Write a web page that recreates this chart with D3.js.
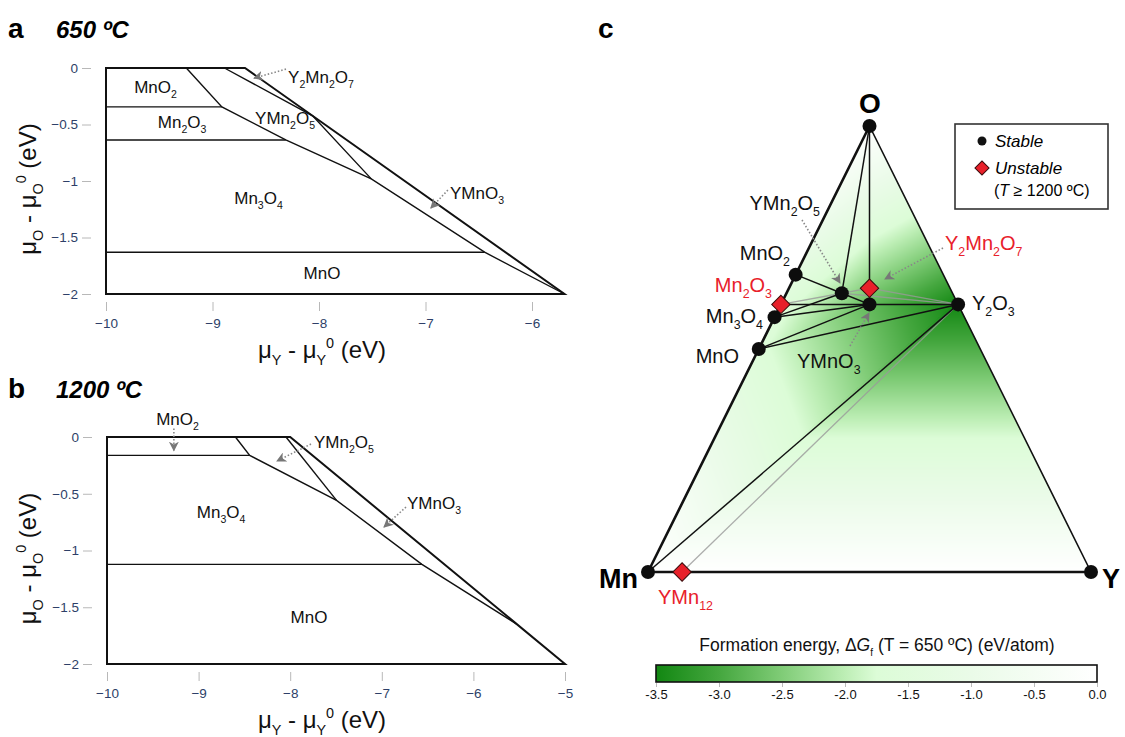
<!DOCTYPE html>
<html>
<head>
<meta charset="utf-8">
<script src="https://cdn.jsdelivr.net/npm/d3@7"></script>
<style>
  body { margin: 0; background: #fff; }
  text { font-family: "Liberation Sans", Arial, Helvetica, sans-serif; }
</style>
</head>
<body>
<div id="fig"></div>
<script>
(function () {

    var width = 1125;
    var height = 737;

    // ---- panel a : 650 C chemical potential map (muY, muO) ----
    var aOutline = [[-10, 0], [-8.695, 0], [-5.695, -2], [-10, -2]];
    var aLines = [
        [[-10, -0.344], [-8.912, -0.344]],
        [[-10, -0.637], [-8.312, -0.637]],
        [[-10, -1.63], [-6.445, -1.63]],
        [[-9.246, 0], [-8.912, -0.344], [-8.312, -0.637], [-7.509, -0.981], [-6.445, -1.63], [-5.695, -2]],
        [[-8.888, 0], [-8.06, -0.423], [-7.509, -0.981]]
    ];
    var aXTicks = [-10, -9, -8, -7, -6];
    var aLabels = [["MnO2", -9.535, -0.168], ["Mn2O3", -9.286, -0.478], ["YMn2O5", -8.319, -0.442],
                   ["Mn3O4", -8.568, -1.15], ["MnO", -7.972, -1.814]];
    var aCallouts = [["Y2Mn2O7", -8.29, -0.08, -8.31, -0.01, -8.61, -0.09],
                     ["YMnO3", -6.77, -1.106, -6.79, -1.08, -6.95, -1.24]];

    // ---- panel b : 1200 C ----
    var bOutline = [[-10, 0], [-8.0, 0], [-5, -2], [-10, -2]];
    var bLines = [
        [[-10, -0.162], [-8.442, -0.162]],
        [[-10, -1.122], [-6.562, -1.122]],
        [[-8.598, 0], [-8.442, -0.162], [-7.494, -0.558], [-6.562, -1.122], [-5.531, -1.646]],
        [[-8.046, 0], [-7.494, -0.558]]
    ];
    var bXTicks = [-10, -9, -8, -7, -6, -5];
    var bLabels = [["Mn3O4", -8.755, -0.66], ["MnO", -7.795, -1.586]];
    var bCallouts = [["YMn2O5", -7.74, -0.044, -7.773, -0.062, -8.144, -0.211],
                     ["YMnO3", -6.725, -0.58, -6.736, -0.617, -6.976, -0.793]];

    var muOTicks = [0, -0.5, -1, -1.5, -2];

    // ---- panel c : Mn-Y-O ternary ----
    var compounds = ["Mn", "Y", "O", "MnO2", "Mn2O3", "Mn3O4", "MnO", "Y2O3", "YMnO3", "YMn2O5", "Y2Mn2O7", "YMn12"];
    var nMn = [1, 0, 0, 1, 2, 3, 1, 0, 1, 2, 2, 12];
    var nY  = [0, 1, 0, 0, 0, 0, 0, 2, 1, 1, 2, 1];
    var nO  = [0, 0, 1, 2, 3, 4, 1, 3, 3, 5, 7, 0];
    var stable = [1, 1, 1, 1, 0, 1, 1, 1, 1, 1, 0, 0];
    var dGf = [0, 0, 0, -1.35, -1.55, -1.63, -1.66, -3.5, -2.75, -2.2, -2.33, -0.05];

    var tieBlack = [["O", "YMn2O5"], ["O", "YMnO3"], ["MnO2", "YMn2O5"], ["Mn3O4", "YMn2O5"],
                    ["Mn3O4", "YMnO3"], ["YMn2O5", "YMnO3"], ["YMnO3", "Y2O3"], ["MnO", "YMnO3"],
                    ["MnO", "Y2O3"], ["Mn", "Y2O3"], ["Mn2O3", "YMnO3"]];
    var tieGray = [["Mn2O3", "YMn2O5"], ["Y2Mn2O7", "YMn2O5"], ["Y2Mn2O7", "Y2O3"],
                   ["YMn2O5", "Y2O3"], ["YMn12", "Y2O3"]];
    var hullTriangles = [["O", "MnO2", "YMn2O5"], ["O", "YMn2O5", "YMnO3"], ["O", "YMnO3", "Y2O3"],
                         ["MnO2", "Mn3O4", "YMn2O5"], ["Mn3O4", "YMn2O5", "YMnO3"], ["Mn3O4", "YMnO3", "MnO"],
                         ["MnO", "YMnO3", "Y2O3"], ["MnO", "Y2O3", "Mn"], ["Mn", "Y2O3", "Y"]];

    var cbarTicks = [-3.5, -3.0, -2.5, -2.0, -1.5, -1.0, -0.5, 0.0];
    var cbarStops = [-3.5, -3.0, -2.5, -2.0, -1.75, -1.0, 0];
    var cbarColors = ["#128712", "#45a73f", "#80cc77", "#bdeeb5", "#dcfcd7", "#eafbe8", "#ffffff"];

    var red = "#e8202a";
    var tickBlue = "#2e3f68";

    var svg = d3.select("#fig").append("svg")
        .attr("width", width).attr("height", height)
        .style("background", "#fff");

    var defs = svg.append("defs");
    defs.append("marker").attr("id", "arr")
        .attr("viewBox", "0 0 10 10").attr("refX", 9).attr("refY", 5)
        .attr("markerWidth", 10).attr("markerHeight", 10)
        .attr("markerUnits", "userSpaceOnUse").attr("orient", "auto")
        .append("path").attr("d", "M0,0 L10,5 L0,10 L3,5 Z").attr("fill", "#777");
    defs.append("filter").attr("id", "soft")
        .append("feGaussianBlur").attr("stdDeviation", 0.6);

    // chemical formula with subscript digits
    function chem(text, s, size) {
        var parts = s.match(/[A-Za-z]+|\d+/g);
        var down = false;
        parts.forEach(function (p) {
            var t = text.append("tspan");
            if (/\d/.test(p)) {
                t.attr("font-size", size * 0.62).attr("dy", down ? 0 : size * 0.3);
                down = true;
            } else {
                t.attr("dy", down ? -size * 0.3 : 0);
                down = false;
            }
            t.text(p);
        });
        return text;
    }

    function muLabel(text, el, size) {
        text.append("tspan").text("\u03bc");
        text.append("tspan").attr("font-size", size * 0.6).attr("dy", size * 0.3).text(el);
        text.append("tspan").attr("dy", -size * 0.3).text(" - \u03bc");
        text.append("tspan").attr("font-size", size * 0.6).attr("dy", size * 0.3).text(el);
        text.append("tspan").attr("font-size", size * 0.6).attr("dy", -size * 0.72).text("0");
        text.append("tspan").attr("dy", size * 0.42).text(" (eV)");
    }

    var tickFmt = d3.format("");

    function phasePanel(xs, ys, outline, lines, xTicks, labels, callouts, letter, title, top) {
        var g = svg.append("g");
        var line = d3.line().x(function (d) { return xs(d[0]); }).y(function (d) { return ys(d[1]); });

        g.append("path").attr("d", line(outline) + "Z")
            .attr("fill", "none").attr("stroke", "#111").attr("stroke-width", 2);
        lines.forEach(function (l) {
            g.append("path").attr("d", line(l))
                .attr("fill", "none").attr("stroke", "#111").attr("stroke-width", 1.4);
        });

        var yAxis = g.append("g").attr("transform", "translate(" + (xs.range()[0] - 15) + ",0)")
            .call(d3.axisLeft(ys).tickValues(muOTicks).tickSize(9).tickPadding(4).tickFormat(tickFmt));
        var xAxis = g.append("g").attr("transform", "translate(0," + (ys(-2) + 8) + ")")
            .call(d3.axisBottom(xs).tickValues(xTicks).tickSize(9).tickPadding(7).tickFormat(tickFmt));
        [xAxis, yAxis].forEach(function (ax) {
            ax.select(".domain").remove();
            ax.selectAll(".tick line").attr("stroke", "#b8b8b8");
            ax.selectAll(".tick text").attr("fill", tickBlue).attr("font-size", 13.5)
                .style("font-family", "'Liberation Sans', Arial, sans-serif");
        });

        labels.forEach(function (d) {
            chem(g.append("text").attr("x", xs(d[1])).attr("y", ys(d[2]) + 6)
                .attr("text-anchor", "middle").attr("font-size", 17).attr("fill", "#111"), d[0], 17);
        });
        callouts.forEach(function (d) {
            g.append("line").attr("x1", xs(d[3])).attr("y1", ys(d[4])).attr("x2", xs(d[5])).attr("y2", ys(d[6]))
                .attr("stroke", "#888").attr("stroke-width", 1.6).attr("stroke-dasharray", "1.5,2")
                .attr("marker-end", "url(#arr)");
            chem(g.append("text").attr("x", xs(d[1])).attr("y", ys(d[2]) + 6)
                .attr("text-anchor", "start").attr("font-size", 17).attr("fill", "#111"), d[0], 17);
        });

        var yl = g.append("text").attr("text-anchor", "middle").attr("font-size", 24).attr("fill", "#111")
            .attr("transform", "translate(36," + (ys(-1) + 8) + ") rotate(-90)");
        muLabel(yl, "O", 24);
        var xl = g.append("text").attr("text-anchor", "middle").attr("font-size", 24).attr("fill", "#111")
            .attr("x", 322).attr("y", ys(-2) + 64);
        muLabel(xl, "Y", 24);

        g.append("text").attr("x", 8).attr("y", top).attr("font-size", 28).attr("font-weight", "bold").text(letter);
        g.append("text").attr("x", 56).attr("y", top).attr("font-size", 24).attr("font-weight", "bold")
            .attr("font-style", "italic").text(title);
        return g;
    }

    // panel a
    var axs = d3.scaleLinear().domain([-10, -6]).range([106, 532]);
    var ays = d3.scaleLinear().domain([0, -2]).range([68, 294]);
    phasePanel(axs, ays, aOutline, aLines, aXTicks, aLabels, aCallouts, "a", "650 \u00baC", 38);

    // panel b
    var bxs = d3.scaleLinear().domain([-10, -5]).range([107, 565]);
    var bys = d3.scaleLinear().domain([0, -2]).range([437, 664]);
    var gb = phasePanel(bxs, bys, bOutline, bLines, bXTicks, bLabels, bCallouts, "b", "1200 \u00baC", 398);
    // MnO2 callout above the plot
    gb.append("line").attr("x1", bxs(-9.27)).attr("y1", bys(0.075)).attr("x2", bxs(-9.27)).attr("y2", bys(-0.12))
        .attr("stroke", "#888").attr("stroke-width", 1.6).attr("stroke-dasharray", "1.5,2")
        .attr("marker-end", "url(#arr)");
    chem(gb.append("text").attr("x", bxs(-9.23)).attr("y", bys(0.1) - 1).attr("text-anchor", "middle")
        .attr("font-size", 17).attr("fill", "#111"), "MnO2", 17);

    // ---- panel c ----
    var tx = d3.scaleLinear().domain([0, 1]).range([648, 1091]);
    var ty = d3.scaleLinear().domain([0, 1]).range([572, 126]);
    var idx = {};
    compounds.forEach(function (c, i) { idx[c] = i; });
    function pt(name) {
        var i = idx[name];
        var n = nMn[i] + nY[i] + nO[i];
        var fY = nY[i] / n, fO = nO[i] / n;
        return [tx(fY + fO / 2), ty(fO)];
    }

    var color = d3.scaleLinear().domain(cbarStops).range(cbarColors).interpolate(d3.interpolateRgb).clamp(true);

    // energy surface shading (barycentric interpolation over the hull triangles)
    var cv = document.createElement("canvas");
    cv.width = width; cv.height = height;
    var ctx = cv.getContext("2d");
    var img = ctx.createImageData(width, height);
    hullTriangles.forEach(function (tri) {
        var p = tri.map(pt);
        var e = tri.map(function (n) { return dGf[idx[n]]; });
        var x0 = Math.floor(d3.min(p, function (d) { return d[0]; })) - 1;
        var x1 = Math.ceil(d3.max(p, function (d) { return d[0]; })) + 1;
        var y0 = Math.floor(d3.min(p, function (d) { return d[1]; })) - 1;
        var y1 = Math.ceil(d3.max(p, function (d) { return d[1]; })) + 1;
        var den = (p[1][1] - p[2][1]) * (p[0][0] - p[2][0]) + (p[2][0] - p[1][0]) * (p[0][1] - p[2][1]);
        for (var y = y0; y <= y1; y++) {
            for (var x = x0; x <= x1; x++) {
                var px = x + 0.5, py = y + 0.5;
                var w0 = ((p[1][1] - p[2][1]) * (px - p[2][0]) + (p[2][0] - p[1][0]) * (py - p[2][1])) / den;
                var w1 = ((p[2][1] - p[0][1]) * (px - p[2][0]) + (p[0][0] - p[2][0]) * (py - p[2][1])) / den;
                var w2 = 1 - w0 - w1;
                if (w0 < -0.01 || w1 < -0.01 || w2 < -0.01) continue;
                var c = d3.rgb(color(w0 * e[0] + w1 * e[1] + w2 * e[2]));
                var k = (y * width + x) * 4;
                img.data[k] = c.r; img.data[k + 1] = c.g; img.data[k + 2] = c.b; img.data[k + 3] = 255;
            }
        }
    });
    ctx.putImageData(img, 0, 0);
    var gc = svg.append("g");
    gc.append("clipPath").attr("id", "triclip").append("path")
        .attr("d", "M" + pt("Mn") + "L" + pt("O") + "L" + pt("Y") + "Z");
    gc.append("image").attr("href", cv.toDataURL()).attr("x", 0).attr("y", 0)
        .attr("width", width).attr("height", height).attr("clip-path", "url(#triclip)");

    // tie lines
    tieGray.forEach(function (d) {
        var a = pt(d[0]), b = pt(d[1]);
        gc.append("line").attr("x1", a[0]).attr("y1", a[1]).attr("x2", b[0]).attr("y2", b[1])
            .attr("stroke", "#9a9a9a").attr("stroke-width", 1.3).attr("opacity", 0.8);
    });
    tieBlack.forEach(function (d) {
        var a = pt(d[0]), b = pt(d[1]);
        gc.append("line").attr("x1", a[0]).attr("y1", a[1]).attr("x2", b[0]).attr("y2", b[1])
            .attr("stroke", "#111").attr("stroke-width", 1.5);
    });
    // triangle edges
    [["Mn", "O", 2.6], ["O", "Y", 1.6], ["Mn", "Y", 2.6]].forEach(function (d) {
        var a = pt(d[0]), b = pt(d[1]);
        gc.append("line").attr("x1", a[0]).attr("y1", a[1]).attr("x2", b[0]).attr("y2", b[1])
            .attr("stroke", "#111").attr("stroke-width", d[2]).attr("stroke-linecap", "round");
    });

    // callout arrows in c
    [[802, 220, 840, 283], [943, 248, 885, 279], [850, 346, 869, 313]].forEach(function (d) {
        gc.append("line").attr("x1", d[0]).attr("y1", d[1]).attr("x2", d[2]).attr("y2", d[3])
            .attr("stroke", "#888").attr("stroke-width", 1.6).attr("stroke-dasharray", "1.5,2")
            .attr("marker-end", "url(#arr)");
    });

    // compound markers
    compounds.forEach(function (c, i) {
        var p = pt(c);
        if (stable[i]) {
            gc.append("circle").attr("cx", p[0]).attr("cy", p[1]).attr("r", 7)
                .attr("fill", "#111").attr("filter", "url(#soft)");
        } else {
            gc.append("rect").attr("x", -6.5).attr("y", -6.5).attr("width", 13).attr("height", 13)
                .attr("transform", "translate(" + p[0] + "," + p[1] + ") rotate(45)")
                .attr("fill", red).attr("stroke", "#3a0a0a").attr("stroke-width", 1);
        }
    });

    // compound labels in c
    var cLabels = [["YMn2O5", 820, 210, "end", "#111"], ["MnO2", 790, 260, "end", "#111"],
                   ["Mn2O3", 772, 292, "end", red], ["Mn3O4", 763, 323, "end", "#111"],
                   ["MnO", 739, 363, "end", "#111"], ["YMnO3", 797, 368, "start", "#111"],
                   ["Y2Mn2O7", 945, 250, "start", red], ["Y2O3", 972, 310, "start", "#111"],
                   ["YMn12", 658, 604, "start", red]];
    cLabels.forEach(function (d) {
        chem(gc.append("text").attr("x", d[1]).attr("y", d[2]).attr("text-anchor", d[3])
            .attr("font-size", 20).attr("fill", d[4]), d[0], 20);
    });
    gc.append("text").attr("x", 870).attr("y", 113).attr("text-anchor", "middle")
        .attr("font-size", 28).attr("font-weight", "bold").text("O");
    gc.append("text").attr("x", 638).attr("y", 588).attr("text-anchor", "end")
        .attr("font-size", 27).attr("font-weight", "bold").text("Mn");
    gc.append("text").attr("x", 1102).attr("y", 588).attr("text-anchor", "start")
        .attr("font-size", 27).attr("font-weight", "bold").text("Y");
    gc.append("text").attr("x", 598).attr("y", 38).attr("font-size", 28).attr("font-weight", "bold").text("c");

    // legend
    var lg = gc.append("g");
    lg.append("rect").attr("x", 955).attr("y", 124).attr("width", 153).attr("height", 85)
        .attr("fill", "#fff").attr("stroke", "#333").attr("stroke-width", 1.6);
    lg.append("circle").attr("cx", 982).attr("cy", 141).attr("r", 4.5).attr("fill", "#111");
    lg.append("text").attr("x", 995).attr("y", 147).attr("font-size", 17).attr("font-style", "italic").text("Stable");
    lg.append("rect").attr("x", -5).attr("y", -5).attr("width", 10).attr("height", 10)
        .attr("transform", "translate(982,168) rotate(45)").attr("fill", red).attr("stroke", "#3a0a0a");
    lg.append("text").attr("x", 995).attr("y", 174).attr("font-size", 17).attr("font-style", "italic").text("Unstable");
    var lt = lg.append("text").attr("x", 994).attr("y", 196).attr("font-size", 16);
    lt.append("tspan").text("(");
    lt.append("tspan").attr("font-style", "italic").text("T");
    lt.append("tspan").text(" \u2265 1200 \u00baC)");

    // colour bar
    var cb = d3.scaleLinear().domain([-3.5, 0]).range([656, 1097]);
    var grad = defs.append("linearGradient").attr("id", "cbar")
        .attr("x1", 0).attr("x2", 1).attr("y1", 0).attr("y2", 0);
    cbarStops.forEach(function (s, i) {
        grad.append("stop").attr("offset", (s + 3.5) / 3.5).attr("stop-color", cbarColors[i]);
    });
    svg.append("rect").attr("x", cb(-3.5)).attr("y", 665).attr("width", cb(0) - cb(-3.5)).attr("height", 17)
        .attr("fill", "url(#cbar)").attr("stroke", "#111").attr("stroke-width", 1.6);
    var cax = svg.append("g").attr("transform", "translate(0,683)")
        .call(d3.axisBottom(cb).tickValues(cbarTicks).tickSize(4).tickPadding(3).tickFormat(d3.format(".1f")));
    cax.select(".domain").remove();
    cax.selectAll(".tick line").attr("stroke", "#bbb");
    cax.selectAll(".tick text").attr("fill", "#111").attr("font-size", 13)
        .style("font-family", "'Liberation Sans', Arial, sans-serif")
        .text(function (d) { return d3.format(".1f")(d).replace("\u2212", "-"); });

    var ct = svg.append("text").attr("x", 877).attr("y", 651).attr("text-anchor", "middle")
        .attr("font-size", 17.5).attr("fill", "#111");
    ct.append("tspan").text("Formation energy, \u0394");
    ct.append("tspan").attr("font-style", "italic").text("G");
    ct.append("tspan").attr("font-size", 10).attr("dy", 5).text("f");
    ct.append("tspan").attr("dy", -5).text(" (T = 650 \u00baC) (eV/atom)");

})();
</script>
</body>
</html>
